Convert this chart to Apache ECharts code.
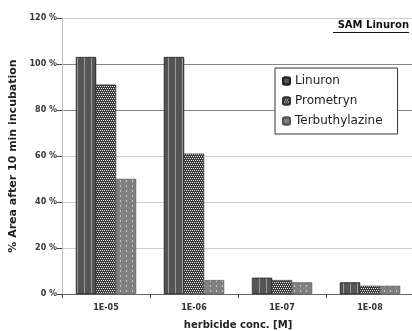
<!DOCTYPE html>
<html><head><meta charset="utf-8">
<script src="https://cdn.jsdelivr.net/npm/echarts@6/dist/echarts.min.js"></script>
<style>html,body{margin:0;padding:0;background:#fff}#c{width:412px;height:331px}</style>
</head><body><div id="c"></div>
<script>
var categories = ['1E-05', '1E-06', '1E-07', '1E-08'];
var linuron = [103, 103, 7, 5];
var prometryn = [91, 61, 6, 3.5];
var terbuthylazine = [50, 6, 5, 3.5];
var yTicks = [0, 20, 40, 60, 80, 100, 120];

var chart = echarts.init(document.getElementById('c'), null, {renderer: 'canvas'});
var F = 'DejaVu Sans';
chart.setOption({
  animation: false,
  backgroundColor: '#fff',
  grid: {left: 62, right: -2, top: 18, bottom: 37, outerBoundsMode: 'none', containLabel: false},
  legend: {
    orient: 'vertical', left: 275, top: 68,
    backgroundColor: '#fff', borderColor: '#333', borderWidth: 1,
    padding: [7, 15, 7, 7], itemGap: 8, itemWidth: 7, itemHeight: 7,
    textStyle: {fontFamily: F, fontSize: 12, color: '#222'},
    data: ['Linuron', 'Prometryn', 'Terbuthylazine']
  },
  xAxis: {
    type: 'category', data: categories,
    name: 'herbicide conc. [M]', nameLocation: 'middle', nameGap: 26,
    nameTextStyle: {fontFamily: F, fontSize: 10, fontWeight: 'bold', color: '#222'},
    axisLine: {lineStyle: {color: '#666', width: 1}},
    axisTick: {show: true, length: 4, lineStyle: {color: '#444'}},
    axisLabel: {fontFamily: F, fontSize: 8, fontWeight: 'bold', color: '#333', margin: 10}
  },
  yAxis: {
    type: 'value', min: yTicks[0], max: yTicks[yTicks.length - 1], interval: 20,
    name: '% Area after 10 min incubation', nameLocation: 'middle', nameGap: 41,
    nameTextStyle: {fontFamily: F, fontSize: 11, fontWeight: 'bold', color: '#222'},
    axisLine: {show: true, lineStyle: {color: '#bbb'}},
    axisTick: {show: true, length: 5, lineStyle: {color: '#444'}},
    axisLabel: {fontFamily: F, fontSize: 8, fontWeight: 'bold', color: '#333', formatter: '{value} %', margin: 5},
    splitLine: {show: true, lineStyle: {color: ['#ccc', '#ccc', '#ccc', '#ccc', '#888', '#888', '#ccc'], width: 1}}
  },
  series: [
    {name: 'Linuron', type: 'bar', data: linuron, barWidth: 20, barGap: '0%', barCategoryGap: '31%',
     itemStyle: {color: '#555', borderColor: '#222', borderWidth: 0.6,
       decal: {symbol: 'rect', color: 'rgba(200,200,200,0.6)', dashArrayX: [1, 6], dashArrayY: [10, 0], symbolSize: 1}}},
    {name: 'Prometryn', type: 'bar', data: prometryn, barWidth: 20,
     itemStyle: {color: '#3c3c3c', borderColor: '#333', borderWidth: 0.4,
       decal: {symbol: 'rect', color: '#e6e6e6', dashArrayX: [[1, 1], [0, 1, 1, 0]], dashArrayY: [1, 1], symbolSize: 1}}},
    {name: 'Terbuthylazine', type: 'bar', data: terbuthylazine, barWidth: 20,
     itemStyle: {color: '#808080', borderColor: '#555', borderWidth: 0.4,
       decal: {symbol: 'rect', color: 'rgba(230,230,230,0.7)', dashArrayX: [1, 5], dashArrayY: [2, 3], symbolSize: 1}}}
  ],
  graphic: [
    {type: 'text', right: 3, top: 20, style: {text: 'SAM Linuron', fontFamily: F, fontSize: 10, fontWeight: 'bold', fill: '#111'}},
    {type: 'rect', right: 3, top: 32, shape: {width: 76, height: 1}, style: {fill: '#111'}}
  ]
});
</script></body></html>
